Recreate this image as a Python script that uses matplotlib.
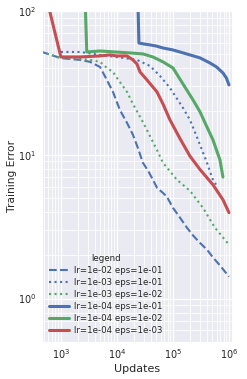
import matplotlib
matplotlib.use("Agg")
import matplotlib.pyplot as plt
import seaborn as sns

# lr=1e-02 eps=1e-01 (blue dashed)
A_X = [450, 1000, 2200, 3300, 5000, 6600, 8500, 11300, 15100, 19300, 24000, 29100, 36000,
       44000, 52000, 66000, 78000, 100000, 130000, 178000, 230000, 300000, 405000, 520000,
       700000, 1000000]
A_Y = [52, 47, 45.7, 44.3, 40.8, 33.2, 27.4, 20.5, 16.7, 13.8, 11.0, 8.8, 7.74,
       6.7, 5.89, 5.44, 5.11, 4.28, 3.71, 3.11, 2.74, 2.45, 2.19, 1.93, 1.69, 1.42]

# lr=1e-03 eps=1e-01 (blue dotted)
B_X = [1000, 2200, 5000, 12800, 22800, 38800, 58600, 88400, 151000, 201000, 268000,
       405000, 518000, 586000]
B_Y = [51.9, 51.9, 49.5, 47.2, 45.7, 41.5, 35.4, 29.2, 21.2, 17.5, 13.3, 8.8, 6.7, 6.2]

# lr=1e-03 eps=1e-02 (green dotted)
C_X = [450, 1000, 2200, 3300, 5000, 6600, 8500, 10000, 15100, 19300, 29100, 34300, 51800,
       66300, 118000, 201000, 343000, 562000, 1000000]
C_Y = [51.9, 47.2, 46.4, 45.7, 44.3, 40.2, 37.7, 34.3, 27.4, 22.6, 16.9, 14.9, 10.8,
       8.8, 6.7, 5.62, 4.28, 3.11, 2.37]

# lr=1e-04 eps=1e-01 (blue solid)
D_X = [22000, 24700, 30000, 38800, 50000, 66300, 100000, 133000, 201000, 304000, 458000,
       600000, 780000, 900000, 1000000]
D_Y = [400, 59.9, 59.0, 58.1, 57.1, 55.3, 53.6, 51.9, 49.5, 47.2, 43.5, 40.8, 37.1, 34.2,
       30.6]

# lr=1e-04 eps=1e-02 (green solid)
E_X = [2400, 2900, 5000, 9200, 17100, 29100, 43900, 66300, 100000, 151000, 228000, 304000,
       405000, 518000, 691000, 781000]
E_Y = [500, 51.9, 52.7, 51.9, 51.1, 50.3, 47.9, 44.3, 40.2, 31.1, 24.1, 19.9, 15.6, 12.7,
       9.2, 7.0]

# lr=1e-04 eps=1e-03 (red solid)
F_X = [500, 1000, 2200, 5000, 7500, 10000, 15100, 19300, 22800, 25800, 34300, 51800, 66300,
       88400, 133000, 201000, 304000, 518000, 781000, 1000000]
F_Y = [145, 47.9, 47.9, 48.7, 49.5, 48.7, 48.7, 45.7, 42.8, 37.7, 33.2, 27.4, 22.6,
       17.5, 13.0, 9.8, 7.9, 6.19, 4.87, 3.96]

LABELS = ["lr=1e-02 eps=1e-01", "lr=1e-03 eps=1e-01", "lr=1e-03 eps=1e-02",
          "lr=1e-04 eps=1e-01", "lr=1e-04 eps=1e-02", "lr=1e-04 eps=1e-03"]

blue, green, red = "#4C72B0", "#55A868", "#C44E52"

sns.set_style("darkgrid")
plt.rcParams["font.family"] = ["DejaVu Sans"]

fig = plt.figure(figsize=(2.47, 3.79), dpi=100)
ax = fig.add_axes([0.170, 0.098, 0.769, 0.873])

ax.plot(A_X, A_Y, color=blue, ls="--", lw=1.5, label=LABELS[0])
ax.plot(B_X, B_Y, color=blue, ls=":", lw=1.5, label=LABELS[1])
ax.plot(C_X, C_Y, color=green, ls=":", lw=1.5, label=LABELS[2])
ax.plot(D_X, D_Y, color=blue, lw=2.2, label=LABELS[3])
ax.plot(E_X, E_Y, color=green, lw=2.2, label=LABELS[4])
ax.plot(F_X, F_Y, color=red, lw=2.2, label=LABELS[5])

ax.set_xscale("log")
ax.set_yscale("log")
ax.set_xlim(460, 1.13e6)
ax.set_ylim(0.5, 100)

ax.grid(True, which="major", color="white", lw=0.9)
ax.grid(True, which="minor", color="white", lw=0.6)
ax.tick_params(which="both", length=0, labelsize=7, pad=4, labelcolor="#262626")

ax.set_xlabel("Updates", fontsize=8, labelpad=2)
ax.set_ylabel("Training Error", fontsize=7.7, labelpad=0.5)

leg = ax.legend(title="legend", loc="lower left", fontsize=6.2, title_fontsize=6.2,
                frameon=False, handlelength=2.3, handletextpad=0.6, labelspacing=0.35,
                borderaxespad=0.4)

fig.savefig("out.png", dpi=100)
